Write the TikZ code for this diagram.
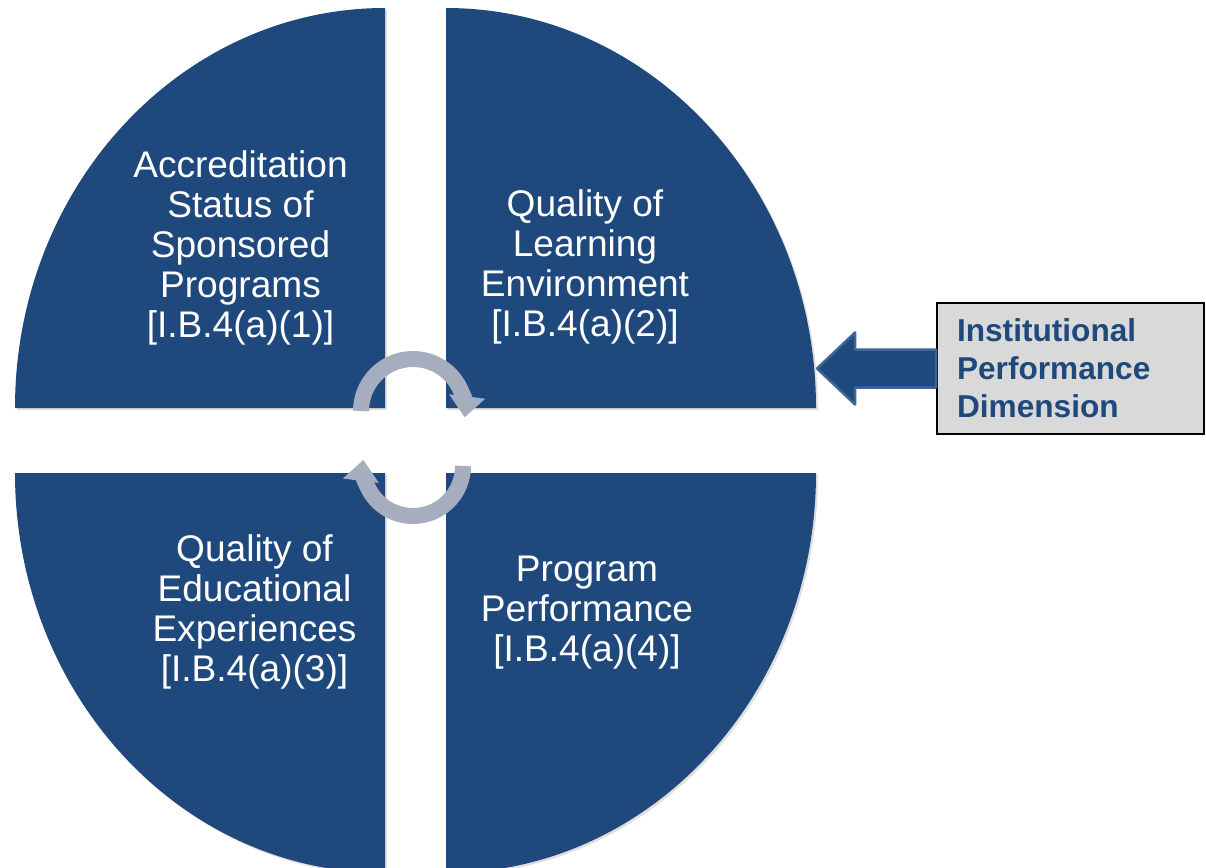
\documentclass[tikz,border=0pt]{standalone}
\usepackage{fontspec}
\setmainfont{Liberation Sans}
\usetikzlibrary{arrows.meta,shadows}
\definecolor{dunkelblau}{HTML}{1F497D}
\definecolor{kreisgrau}{HTML}{A5ADBF}
\definecolor{kastengrau}{HTML}{D9D9D9}
\definecolor{pfeilrand}{HTML}{3D6697}

\begin{document}
\begin{tikzpicture}[x=0.02cm, y=0.02cm,
	viertel/.style={fill=dunkelblau, drop shadow={shadow xshift=0.04cm, shadow yshift=-0.04cm, opacity=0.25}},
	beschriftung/.style={text=white, align=center, font=\fontsize{21.1}{22.8}\selectfont},
	kreispfeil/.style={draw=kreisgrau, line width=0.32cm, -{Triangle[width=0.7cm, length=0.42cm]}},
	kasten/.style={draw=black, line width=0.04cm, fill=kastengrau, text=dunkelblau,
		font=\fontsize{18}{21.6}\selectfont\bfseries, align=left, text width=4.54cm,
		inner xsep=0.4cm, minimum height=2.62cm},
	blockpfeil/.style={fill=dunkelblau, draw=pfeilrand, line width=0.05cm, line join=round}
]
	\useasboundingbox (0,0) rectangle (1206,867);
	% Viertelkreise
	\path[viertel] (385,459) -- (15,459) arc (180:90:370 and 400) -- cycle;
	\path[viertel] (446,459) -- (446,859) arc (90:0:370 and 400) -- cycle;
	\path[viertel] (385,394) -- (15,394) arc (180:270:370 and 400) -- cycle;
	\path[viertel] (446,394) -- (816,394) arc (0:-90:370 and 400) -- cycle;

	% Beschriftungen
	\node[beschriftung] (akkreditierung) at (240.5,619) {Accreditation\\Status of\\Sponsored\\Programs\\{[I.B.4(a)(1)]}};
	\node[beschriftung] (lernumgebung) at (585,600) {Quality of\\Learning\\Environment\\{[I.B.4(a)(2)]}};
	\node[beschriftung] (erfahrungen) at (254.5,255) {Quality of\\Educational\\Experiences\\{[I.B.4(a)(3)]}};
	\node[beschriftung] (leistung) at (587,254) {Program\\Performance\\{[I.B.4(a)(4)]}};

	% Kreispfeile
	\draw[kreispfeil] (361,456) arc (180:-7:52);
	\draw[kreispfeil] (463,401) arc (0:-187:50);

	% Kasten rechts
	\node[kasten] (dimension) at (1070.5,498.5) {Institutional\\Performance\\Dimension};
	\filldraw[blockpfeil] (dimension.west) ++(0,19) -- ++(-81,0) -- ++(0,17) -- ++(-38,-36)
		-- ++(38,-36) -- ++(0,17) -- ++(81,0) -- cycle;
\end{tikzpicture}
\end{document}
